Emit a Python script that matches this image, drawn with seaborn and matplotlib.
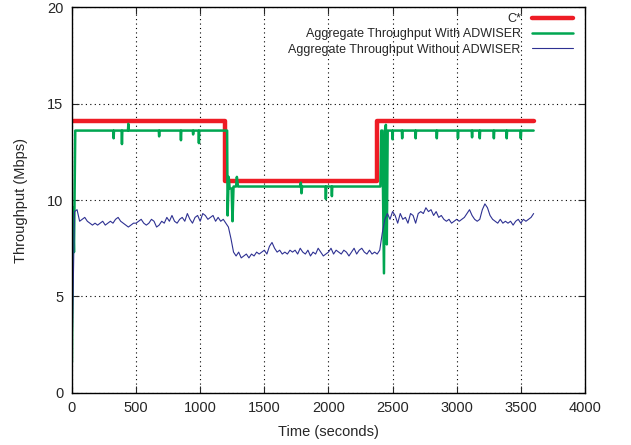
import numpy as np
import pandas as pd
import matplotlib
matplotlib.use("Agg")
import matplotlib.pyplot as plt
import seaborn as sns

# ---------------- data ----------------
c_star_times = [0, 1195, 2378, 3600]
c_star_values = [14.1, 11.0, 14.1, 14.1]

with_times = [0, 8, 16, 26,
              322, 325, 328,
              387, 390, 393,
              437, 440, 443,
              677, 680, 683,
              847, 850, 853,
              942, 945, 948,
              987, 990, 993,
              1210, 1214, 1222, 1230, 1245, 1252, 1260, 1280, 1286, 1295,
              1780, 1785, 1790, 1795,
              1977, 1980, 1983, 2024, 2027, 2030,
              2405, 2412, 2420, 2433, 2440, 2448, 2455, 2462, 2470,
              2497, 2500, 2503, 2572, 2575, 2578, 2677, 2680, 2683,
              2842, 2845, 2848, 3007, 3010, 3013, 3117, 3120, 3123,
              3177, 3180, 3183, 3287, 3290, 3293, 3387, 3390, 3393,
              3497, 3500, 3503, 3600]
with_values = [1.6, 9.6, 7.3, 13.6,
               13.6, 13.2, 13.6,
               13.6, 12.9, 13.6,
               13.6, 13.95, 13.6,
               13.6, 13.3, 13.6,
               13.6, 13.1, 13.6,
               13.6, 13.4, 13.6,
               13.6, 12.95, 13.6,
               13.6, 9.2, 11.2, 10.6, 10.6, 8.9, 10.7, 10.7, 11.2, 10.7,
               10.7, 10.9, 10.35, 10.7,
               10.7, 10.05, 10.7, 10.7, 10.2, 10.7,
               10.7, 13.6, 13.6, 6.2, 13.6, 13.9, 7.7, 13.6, 13.6,
               13.6, 13.15, 13.6, 13.6, 13.2, 13.6, 13.6, 13.2, 13.6,
               13.6, 13.2, 13.6, 13.6, 13.2, 13.6, 13.6, 13.25, 13.6,
               13.6, 13.2, 13.6, 13.6, 13.2, 13.6, 13.6, 13.2, 13.6,
               13.6, 13.2, 13.6, 13.6]

without_times = list(range(0, 3601, 20))
without_values = [
    # 0 .. 1200
    1.6, 9.4, 9.5, 8.9, 9.0, 9.1, 8.9, 8.8, 8.7, 8.8,
    8.7, 8.8, 8.9, 8.7, 8.8, 8.9, 8.8, 9.0, 9.1, 8.9,
    8.8, 8.7, 8.6, 8.7, 8.8, 8.8, 8.9, 9.0, 8.8, 8.7,
    8.8, 9.0, 8.9, 8.6, 8.7, 8.9, 8.8, 9.1, 8.9, 9.2,
    8.9, 8.8, 9.0, 9.1, 8.9, 9.3, 9.0, 8.8, 9.1, 9.2,
    8.9, 9.3, 9.2, 9.0, 9.1, 9.2, 8.9, 9.1, 8.9, 9.0,
    8.8,
    # 1220 .. 2400
    8.6, 8.0, 7.3, 7.1, 7.3, 7.0, 7.1, 7.2, 7.0, 7.2,
    7.1, 7.3, 7.2, 7.3, 7.4, 7.2, 7.6, 7.8, 7.5, 7.3,
    7.4, 7.2, 7.3, 7.2, 7.4, 7.3, 7.4, 7.2, 7.5, 7.3,
    7.2, 7.4, 7.1, 7.3, 7.2, 7.5, 7.3, 7.1, 7.2, 7.3,
    7.5, 7.2, 7.4, 7.3, 7.2, 7.4, 7.3, 7.1, 7.3, 7.5,
    7.2, 7.4, 7.5, 7.3, 7.2, 7.4, 7.2, 7.3, 7.2, 7.4,
    # 2420 .. 3600
    8.3, 9.0, 9.3, 9.0, 9.4, 9.2, 8.8, 9.3, 9.0, 9.1,
    8.8, 9.3, 9.2, 8.8, 9.3, 9.4, 9.3, 9.6, 9.4, 9.5,
    9.2, 9.4, 9.1, 9.2, 9.0, 8.9, 9.0, 8.8, 8.9, 9.0,
    8.9, 9.0, 9.1, 9.3, 9.5, 9.2, 9.0, 8.9, 9.0, 9.5,
    9.8, 9.6, 9.2, 9.0, 8.9, 8.8, 9.0, 8.8, 8.9, 8.8,
    8.9, 8.7, 8.9, 9.0, 8.8, 9.0, 8.9, 9.0, 9.1, 9.3,
]

labels = ["C*", "Aggregate Throughput With ADWISER",
          "Aggregate Throughput Without ADWISER"]
x_ticks = [0, 500, 1000, 1500, 2000, 2500, 3000, 3500, 4000]
y_ticks = [0, 5, 10, 15, 20]

# ---------------- plot ----------------
sns.set_style("ticks")
plt.rcParams["font.family"] = ["Liberation Sans", "DejaVu Sans"]

fig = plt.figure(figsize=(6.31, 4.45), dpi=100)
ax = fig.add_axes([0.114, 0.117, 0.813, 0.867])

df_c = pd.DataFrame({"t": c_star_times, "v": c_star_values})
df_w = pd.DataFrame({"t": with_times, "v": with_values})
df_o = pd.DataFrame({"t": without_times, "v": without_values})

sns.lineplot(data=df_c, x="t", y="v", ax=ax, color="#ee1c25", lw=3.2,
             drawstyle="steps-post", estimator=None, sort=False, label=labels[0])
sns.lineplot(data=df_w, x="t", y="v", ax=ax, color="#00a651", lw=1.8,
             estimator=None, sort=False, label=labels[1])
sns.lineplot(data=df_o, x="t", y="v", ax=ax, color="#2e3192", lw=0.8,
             estimator=None, sort=False, label=labels[2])

ax.set_xlim(0, 4000)
ax.set_ylim(0, 20)
ax.set_xticks(x_ticks)
ax.set_yticks(y_ticks)
ax.set_xlabel("Time (seconds)", fontsize=10.5, labelpad=7)
ax.set_ylabel("Throughput (Mbps)", fontsize=10.5, labelpad=14)
ax.tick_params(direction="in", top=True, right=True, length=5, width=0.8,
               labelsize=10.5, pad=6)
ax.grid(True, linestyle=(0, (1, 3)), color="black", lw=0.8)
for s in ax.spines.values():
    s.set_color("black")
    s.set_linewidth(1.0)

leg = ax.legend(loc="upper right", bbox_to_anchor=(0.987, 0.997),
                frameon=False, markerfirst=False,
                fontsize=9, handlelength=3.3, borderaxespad=0.0,
                labelspacing=0.25, handletextpad=0.9)
for t in leg.get_texts():
    t.set_ha("right")

fig.savefig("out.png", dpi=100)
